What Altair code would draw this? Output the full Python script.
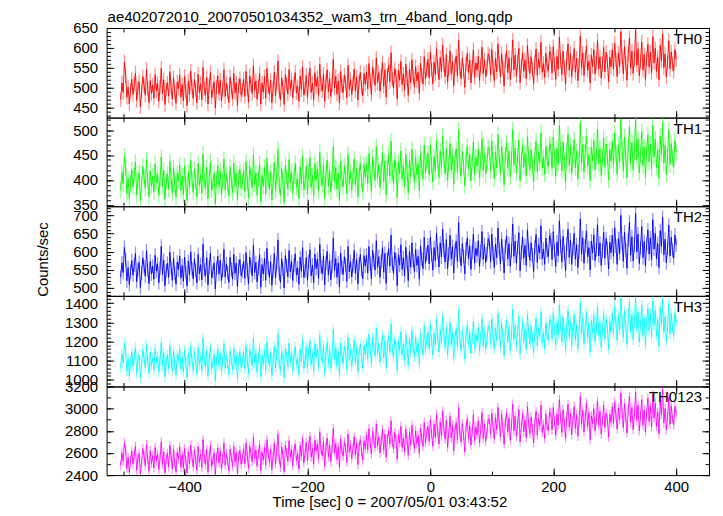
import altair as alt
import pandas as pd

title_text = "ae402072010_20070501034352_wam3_trn_4band_long.qdp"
x_title = "Time [sec] 0 = 2007/05/01 03:43:52"
y_title = "Counts/sec"
t_start = -504
t_step = 2

th0 = [
    470, 512, 488, 565, 530, 476, 502, 459, 494, 521, 483, 509, 537, 468, 499, 515, 452, 490, 528, 505,
    481, 546, 497, 463, 518, 486, 507, 474, 533, 492, 511, 466, 501, 549, 485, 520, 458, 496, 512, 479,
    540, 503, 471, 525, 489, 461, 514, 498, 532, 476,
    508, 467, 529, 491, 455, 517, 483, 542, 500, 473, 521, 495, 462, 534, 488, 510, 470, 551, 497, 482,
    526, 459, 504, 538, 476, 493, 515, 449, 502, 530, 485, 519, 468, 496, 545, 478, 511, 490, 463, 527,
    499, 472, 536, 487, 513, 456, 505, 523, 481, 494,
    522, 478, 541, 499, 465, 530, 508, 486, 555, 493, 517, 471, 502, 536, 459, 512, 489, 528, 474, 548,
    505, 483, 519, 462, 497, 539, 480, 514, 567, 491, 470, 525, 501, 458, 533, 509, 484, 546, 496, 520,
    475, 511, 538, 487, 503, 466, 529, 495, 552, 482,
    497, 531, 476, 520, 549, 488, 512, 470, 538, 503, 526, 481, 559, 507, 492, 534, 466, 515, 545, 490,
    523, 478, 508, 571, 499, 529, 484, 517, 462, 541, 505, 488, 532, 512, 475, 556, 496, 521, 483, 510,
    547, 493, 527, 469, 515, 539, 501, 480, 536, 509,
    540, 497, 561, 518, 483, 552, 529, 506, 575, 512, 538, 491, 527, 563, 503, 545, 476, 532, 557, 515,
    588, 521, 499, 548, 530, 472, 543, 519, 566, 508, 535, 494, 559, 524, 481, 547, 513, 570, 528, 502,
    553, 517, 539, 486, 562, 531, 509, 578, 522, 545,
    571, 525, 589, 546, 510, 564, 533, 598, 552, 520, 576, 541, 607, 557, 528, 583, 514, 549, 592, 536,
    566, 505, 558, 580, 531, 619, 547, 522, 575, 543, 501, 560, 586, 538, 569, 512, 553, 595, 526, 562,
    544, 579, 518, 556, 602, 535, 570, 527, 549, 585,
    579, 532, 596, 551, 518, 573, 540, 610, 562, 527, 585, 548, 504, 567, 593, 538, 575, 521, 557, 620,
    545, 582, 529, 564, 599, 513, 554, 588, 541, 570, 523, 606, 559, 536, 578, 547, 511, 565, 597, 531,
    572, 550, 614, 539, 561, 526, 586, 555, 543, 591,
    584, 537, 603, 558, 521, 579, 546, 627, 568, 533, 592, 551, 509, 575, 610, 544, 585, 528, 563, 598,
    539, 574, 517, 556, 630, 549, 587, 531, 570, 605, 543, 566, 512, 582, 553, 596, 535, 561, 618, 547,
    578, 524, 559, 601, 540, 589, 565, 515, 577, 552,
    595, 546, 612, 570, 528, 587, 553, 641, 578, 535, 603, 561, 519, 584, 625, 549, 592, 536, 571, 646,
    557, 598, 530, 566, 615, 544, 583, 521, 574, 609, 552, 589, 538, 628, 562, 599, 541, 576, 520, 606,
    568, 634, 550, 585, 527, 563, 618, 547, 590, 559,
    542, 596, 571,
]
th1 = [
    380, 415, 392, 448, 425, 372, 403, 364, 395, 420, 386, 409, 436, 370, 399, 414, 358, 391, 427, 405,
    383, 441, 397, 366, 418, 388, 407, 376, 432, 394, 411, 369, 401, 446, 387, 419, 361, 396, 412, 381,
    437, 403, 373, 424, 390, 365, 413, 398, 430, 378,
    408, 370, 428, 392, 359, 416, 385, 439, 400, 375, 421, 396, 366, 433, 389, 410, 373, 452, 397, 384,
    425, 362, 404, 436, 379, 394, 414, 352, 402, 429, 387, 418, 371, 397, 442, 380, 411, 391, 367, 426,
    399, 374, 434, 389, 413, 360, 405, 422, 383, 395,
    419, 377, 437, 397, 364, 427, 405, 384, 450, 391, 414, 369, 400, 432, 356, 409, 387, 425, 372, 444,
    402, 381, 416, 360, 395, 435, 378, 411, 461, 389, 368, 422, 398, 355, 430, 406, 382, 441, 394, 417,
    373, 408, 433, 385, 401, 363, 426, 393, 447, 380,
    394, 427, 372, 416, 444, 385, 409, 367, 433, 400, 422, 378, 455, 404, 389, 430, 363, 412, 440, 387,
    419, 375, 405, 466, 396, 425, 381, 414, 359, 437, 402, 386, 428, 409, 372, 451, 393, 417, 380, 407,
    442, 390, 423, 366, 411, 434, 398, 377, 431, 406,
    432, 392, 453, 411, 377, 445, 421, 399, 467, 405, 430, 384, 420, 455, 396, 438, 370, 425, 449, 408,
    478, 414, 392, 441, 423, 365, 436, 412, 458, 401, 428, 387, 451, 417, 374, 440, 406, 462, 421, 395,
    446, 410, 432, 379, 454, 424, 402, 470, 415, 437,
    453, 410, 470, 430, 396, 447, 417, 479, 436, 405, 458, 425, 488, 440, 412, 464, 399, 433, 473, 420,
    449, 391, 441, 462, 415, 500, 431, 407, 457, 427, 388, 443, 468, 422, 451, 398, 437, 476, 411, 445,
    428, 461, 403, 439, 483, 419, 452, 412, 433, 466,
    462, 417, 478, 435, 403, 456, 424, 491, 446, 412, 467, 432, 390, 451, 475, 423, 458, 406, 441, 501,
    429, 464, 414, 448, 480, 398, 438, 470, 426, 453, 408, 487, 443, 421, 460, 431, 396, 449, 478, 416,
    455, 434, 495, 424, 445, 411, 468, 439, 427, 473,
    468, 423, 486, 443, 407, 463, 431, 510, 452, 418, 475, 437, 395, 459, 492, 429, 469, 413, 448, 481,
    424, 458, 402, 441, 515, 434, 471, 416, 455, 488, 428, 450, 398, 466, 438, 479, 420, 446, 502, 432,
    462, 409, 444, 484, 425, 472, 449, 400, 461, 437,
    477, 430, 494, 453, 412, 470, 437, 522, 461, 419, 486, 445, 404, 467, 507, 433, 475, 420, 455, 525,
    441, 481, 414, 450, 497, 428, 466, 405, 458, 491, 436, 472, 422, 510, 446, 482, 425, 460, 403, 488,
    452, 515, 434, 469, 411, 447, 500, 431, 473, 443,
    426, 479, 455,
]
th2 = [
    530, 569, 542, 612, 577, 519, 556, 509, 545, 575, 535, 563, 595, 517, 551, 570, 501, 541, 583, 558,
    532, 602, 549, 512, 573, 538, 560, 524, 590, 546, 566, 514, 553, 615, 537, 576, 506, 547, 568, 529,
    598, 556, 521, 581, 540, 510, 571, 550, 588, 527,
    561, 518, 585, 543, 505, 574, 536, 599, 552, 525, 580, 548, 514, 592, 539, 564, 522, 620, 549, 533,
    583, 508, 557, 596, 528, 545, 569, 497, 554, 587, 538, 576, 520, 548, 606, 530, 566, 542, 515, 584,
    551, 524, 593, 540, 568, 503, 559, 578, 534, 547,
    574, 526, 597, 550, 511, 585, 559, 533, 617, 542, 570, 516, 553, 591, 502, 564, 538, 581, 521, 609,
    556, 529, 572, 507, 547, 595, 527, 567, 632, 540, 515, 580, 552, 500, 589, 561, 531, 603, 545, 573,
    520, 563, 594, 535, 555, 510, 584, 546, 611, 529,
    546, 584, 521, 572, 605, 533, 563, 514, 593, 553, 579, 526, 620, 558, 539, 588, 508, 568, 601, 536,
    575, 522, 559, 637, 547, 581, 529, 569, 503, 596, 556, 537, 586, 564, 518, 614, 544, 573, 530, 561,
    603, 540, 578, 511, 566, 592, 550, 525, 589, 560,
    590, 541, 614, 567, 525, 604, 576, 549, 630, 556, 586, 529, 572, 611, 543, 595, 512, 580, 608, 560,
    645, 566, 540, 598, 578, 506, 591, 563, 619, 551, 583, 533, 612, 571, 520, 600, 557, 624, 575, 545,
    606, 562, 587, 524, 615, 579, 553, 639, 568, 594,
    618, 566, 640, 590, 549, 611, 575, 651, 597, 558, 624, 585, 662, 604, 571, 633, 553, 593, 645, 580,
    614, 541, 604, 629, 573, 680, 590, 561, 622, 587, 539, 608, 637, 581, 616, 551, 598, 648, 568, 609,
    589, 630, 559, 601, 655, 578, 619, 570, 594, 635,
    627, 572, 648, 595, 556, 621, 583, 665, 609, 566, 634, 593, 541, 614, 643, 579, 622, 560, 601, 676,
    587, 629, 568, 611, 652, 547, 598, 641, 582, 617, 562, 660, 604, 576, 624, 591, 545, 612, 647, 570,
    619, 596, 671, 580, 607, 565, 637, 601, 586, 644,
    633, 578, 655, 603, 559, 627, 589, 685, 614, 571, 642, 598, 547, 621, 662, 584, 632, 565, 608, 650,
    579, 619, 556, 600, 690, 592, 638, 568, 616, 657, 586, 611, 549, 629, 596, 646, 575, 605, 674, 588,
    624, 562, 602, 653, 582, 636, 609, 552, 626, 597,
    645, 587, 666, 615, 565, 636, 595, 700, 624, 573, 654, 605, 554, 632, 681, 590, 641, 574, 617, 705,
    599, 648, 567, 611, 669, 583, 628, 560, 620, 660, 593, 638, 578, 688, 607, 650, 580, 622, 556, 658,
    614, 694, 591, 634, 569, 609, 673, 588, 640, 603,
    582, 646, 618,
]
th3 = [
    1065, 1135, 1088, 1190, 1150, 1045, 1108, 1020, 1092, 1142, 1070, 1118, 1170, 1035, 1101, 1130, 1010, 1080, 1158, 1112,
    1062, 1182, 1097, 1030, 1145, 1075, 1115, 1050, 1165, 1090, 1125, 1040, 1104, 1195, 1072, 1140, 1015, 1094, 1128, 1058,
    1176, 1107, 1044, 1152, 1081, 1025, 1133, 1100, 1162, 1055,
    1118, 1040, 1155, 1085, 1012, 1138, 1068, 1175, 1103, 1048, 1147, 1092, 1030, 1168, 1078, 1122, 1046, 1215, 1098, 1066,
    1152, 1022, 1110, 1172, 1056, 1088, 1132, 995, 1106, 1160, 1076, 1140, 1042, 1097, 1188, 1060, 1127, 1083, 1028, 1150,
    1101, 1050, 1165, 1079, 1125, 1006, 1112, 1146, 1064, 1093,
    1146, 1058, 1178, 1102, 1030, 1160, 1118, 1072, 1220, 1088, 1137, 1040, 1112, 1170, 1015, 1128, 1080, 1155, 1050, 1200,
    1114, 1068, 1142, 1022, 1096, 1175, 1063, 1132, 1240, 1086, 1045, 1150, 1108, 1010, 1164, 1122, 1070, 1190, 1092, 1140,
    1048, 1125, 1172, 1077, 1110, 1028, 1158, 1095, 1210, 1060,
    1104, 1170, 1058, 1150, 1205, 1080, 1136, 1042, 1188, 1120, 1162, 1066, 1232, 1128, 1090, 1178, 1035, 1142, 1198, 1082,
    1156, 1060, 1130, 1262, 1108, 1166, 1072, 1146, 1025, 1192, 1124, 1086, 1174, 1138, 1052, 1220, 1100, 1160, 1068, 1132,
    1208, 1094, 1168, 1040, 1144, 1186, 1115, 1062, 1180, 1130,
    1195, 1110, 1238, 1158, 1085, 1222, 1170, 1125, 1270, 1138, 1190, 1092, 1165, 1232, 1114, 1205, 1064, 1180, 1228, 1148,
    1292, 1160, 1115, 1212, 1175, 1050, 1200, 1152, 1250, 1130, 1186, 1098, 1236, 1162, 1075, 1215, 1140, 1258, 1168, 1118,
    1220, 1145, 1192, 1082, 1240, 1178, 1132, 1280, 1155, 1208,
    1250, 1160, 1290, 1205, 1130, 1242, 1180, 1315, 1215, 1145, 1262, 1192, 1335, 1228, 1168, 1276, 1132, 1208, 1300, 1185,
    1245, 1112, 1222, 1268, 1176, 1362, 1204, 1152, 1258, 1196, 1108, 1235, 1285, 1182, 1248, 1138, 1212, 1305, 1164, 1238,
    1200, 1272, 1150, 1225, 1320, 1178, 1255, 1162, 1206, 1280,
    1278, 1185, 1318, 1228, 1160, 1270, 1205, 1345, 1248, 1168, 1292, 1222, 1125, 1258, 1310, 1196, 1275, 1150, 1235, 1368,
    1212, 1284, 1174, 1252, 1330, 1135, 1226, 1305, 1200, 1264, 1158, 1340, 1242, 1188, 1280, 1218, 1140, 1255, 1322, 1178,
    1268, 1230, 1355, 1192, 1246, 1162, 1298, 1234, 1206, 1312,
    1312, 1215, 1350, 1260, 1180, 1302, 1234, 1390, 1278, 1198, 1325, 1250, 1155, 1290, 1362, 1225, 1306, 1175, 1268, 1340,
    1208, 1286, 1162, 1254, 1402, 1240, 1320, 1188, 1274, 1352, 1220, 1296, 1145, 1310, 1245, 1336, 1200, 1262, 1380, 1230,
    1300, 1170, 1258, 1345, 1212, 1318, 1270, 1160, 1305, 1248,
    1345, 1240, 1382, 1295, 1205, 1335, 1262, 1425, 1310, 1220, 1360, 1280, 1185, 1322, 1405, 1250, 1340, 1210, 1300, 1430,
    1268, 1352, 1198, 1288, 1390, 1232, 1320, 1180, 1305, 1372, 1258, 1345, 1225, 1412, 1285, 1362, 1230, 1310, 1175, 1378,
    1295, 1420, 1248, 1330, 1202, 1282, 1398, 1240, 1348, 1270,
    1232, 1350, 1302,
]
th0123 = [
    2490, 2600, 2525, 2690, 2625, 2460, 2560, 2425, 2535, 2615, 2500, 2580, 2660, 2445, 2550, 2595, 2410, 2515, 2640, 2570,
    2485, 2675, 2540, 2435, 2620, 2505, 2575, 2465, 2650, 2530, 2590, 2450, 2555, 2700, 2495, 2610, 2420, 2538, 2598, 2475,
    2668, 2562, 2455, 2632, 2510, 2430, 2605, 2545, 2655, 2470,
    2585, 2465, 2640, 2530, 2420, 2610, 2500, 2670, 2560, 2475, 2625, 2540, 2445, 2655, 2515, 2590, 2470, 2720, 2550, 2495,
    2630, 2430, 2570, 2665, 2480, 2535, 2600, 2405, 2565, 2645, 2510, 2615, 2455, 2548, 2690, 2490, 2595, 2525, 2440, 2635,
    2558, 2478, 2660, 2520, 2605, 2415, 2575, 2625, 2498, 2545,
    2640, 2505, 2690, 2575, 2460, 2660, 2595, 2520, 2740, 2550, 2625, 2480, 2588, 2675, 2440, 2610, 2535, 2650, 2490, 2720,
    2598, 2515, 2635, 2450, 2565, 2685, 2500, 2620, 2770, 2545, 2470, 2655, 2580, 2430, 2670, 2605, 2525, 2710, 2560, 2630,
    2485, 2612, 2680, 2530, 2592, 2455, 2665, 2570, 2730, 2510,
    2595, 2695, 2530, 2665, 2750, 2560, 2640, 2500, 2715, 2620, 2680, 2545, 2790, 2630, 2575, 2705, 2480, 2650, 2735, 2565,
    2670, 2520, 2635, 2820, 2600, 2685, 2540, 2655, 2470, 2725, 2625, 2570, 2700, 2645, 2515, 2770, 2605, 2675, 2550, 2638,
    2745, 2585, 2690, 2495, 2660, 2720, 2612, 2535, 2710, 2635,
    2760, 2630, 2820, 2695, 2590, 2795, 2715, 2645, 2860, 2665, 2745, 2600, 2705, 2810, 2625, 2770, 2560, 2730, 2800, 2680,
    2890, 2700, 2635, 2785, 2725, 2545, 2765, 2690, 2840, 2650, 2735, 2610, 2815, 2710, 2580, 2790, 2670, 2850, 2720, 2640,
    2800, 2685, 2755, 2595, 2825, 2730, 2660, 2875, 2695, 2780,
    2840, 2705, 2900, 2770, 2660, 2860, 2740, 2950, 2790, 2680, 2880, 2755, 2980, 2815, 2725, 2895, 2650, 2780, 2930, 2735,
    2850, 2620, 2805, 2875, 2720, 3010, 2775, 2700, 2865, 2760, 2610, 2830, 2910, 2730, 2845, 2670, 2790, 2945, 2710, 2835,
    2765, 2890, 2690, 2810, 2965, 2730, 2860, 2705, 2780, 2905,
    2905, 2770, 2960, 2835, 2725, 2920, 2810, 3010, 2870, 2745, 2945, 2825, 2680, 2880, 2965, 2790, 2915, 2715, 2850, 3040,
    2800, 2930, 2750, 2865, 2990, 2700, 2830, 2955, 2790, 2895, 2735, 3020, 2860, 2775, 2925, 2820, 2690, 2875, 2975, 2760,
    2910, 2845, 3030, 2785, 2855, 2730, 2950, 2840, 2805, 2970,
    2960, 2810, 3010, 2885, 2760, 2950, 2850, 3080, 2910, 2785, 2990, 2870, 2730, 2930, 3040, 2835, 2955, 2765, 2900, 3020,
    2820, 2945, 2750, 2880, 3110, 2860, 2985, 2790, 2920, 3050, 2840, 2965, 2720, 2935, 2865, 3000, 2800, 2895, 3070, 2850,
    2975, 2770, 2890, 3030, 2830, 2960, 2905, 2745, 2950, 2875,
    3015, 2865, 3060, 2940, 2815, 3005, 2900, 3140, 2965, 2830, 3045, 2920, 2780, 2985, 3110, 2875, 3010, 2810, 2950, 3150,
    2895, 3030, 2800, 2935, 3080, 2850, 2990, 2790, 2960, 3095, 2885, 3020, 2835, 3125, 2915, 3050, 2840, 2970, 2775, 3070,
    2945, 3170, 2870, 3000, 2810, 2925, 3100, 2860, 3025, 2910,
    2855, 3020, 2955,
]

series = [th0, th1, th2, th3, th0123]
labels = ["TH0", "TH1", "TH2", "TH3", "TH0123"]
colors = ["#ff0000", "#00ff00", "#0000ff", "#00ffff", "#ff00ff"]
errors = [18, 16, 19, 27, 42]
y_domains = [[425, 650], [347, 525], [478, 725], [965, 1438], [2400, 3200]]
y_major = [
    [450, 500, 550, 600, 650],
    [350, 400, 450, 500],
    [500, 550, 600, 650, 700],
    [1000, 1100, 1200, 1300, 1400],
    [2400, 2600, 2800, 3000, 3200],
]
y_minor = [
    list(range(430, 651, 10)),
    list(range(350, 521, 10)),
    list(range(480, 721, 10)),
    list(range(980, 1421, 20)),
    list(range(2400, 3201, 100)),
]
x_domain = [-527, 453.5]
x_major = [-400, -200, 0, 200, 400]
x_minor = [-500, -400, -300, -200, -100, 0, 100, 200, 300, 400]

FONT = "Liberation Sans"
FS = 15
W = 605
heights = [90, 89, 90, 91, 89]
MAJ = 7
MIN = 4


def tick_axis(orient, offset, values, size):
    return alt.Axis(orient=orient, offset=offset, values=values, tickSize=size,
                    labels=False, domain=False, grid=False, title=None,
                    ticks=True, tickColor="black", tickWidth=1)


def panel(i):
    vals = series[i]
    h = heights[i]
    err = errors[i]
    df = pd.DataFrame({
        "t": [t_start + t_step * k for k in range(len(vals))],
        "v": vals,
        "lo": [v - err for v in vals],
        "hi": [v + err for v in vals],
    })
    xs = alt.Scale(domain=x_domain, nice=False, zero=False)
    ys = alt.Scale(domain=y_domains[i], nice=False, zero=False)
    base = alt.Chart(df)
    last = i == len(series) - 1

    if last:
        x_lab = alt.Axis(values=x_major, ticks=False, tickSize=0, domain=False, grid=False,
                         labelPadding=4, labelFlush=False, labelOverlap=False, format="d",
                         labelFontSize=FS, title=x_title, titleFontSize=FS,
                         titleFontWeight="normal", titleX=284, titleY=32,
                         titleAlign="center", titleBaseline="alphabetic")
    else:
        x_lab = None

    y_kw = dict(values=y_major[i], ticks=False, tickSize=0, domain=False, grid=False, format="d",
                labelPadding=9, labelFlush=False, labelOverlap=False, labelFontSize=FS)
    if i == 2:
        y_lab = alt.Axis(title=y_title, titleFontSize=FS, titleFontWeight="normal",
                         titleX=-64, titleY=53, titleAngle=270, titleAlign="center",
                         titleBaseline="middle", **y_kw)
    else:
        y_lab = alt.Axis(title=None, **y_kw)

    l_err = base.mark_rule(color=colors[i], opacity=0.45, strokeWidth=1.2, clip=True).encode(
        x=alt.X("t:Q", scale=xs, axis=x_lab),
        y=alt.Y("lo:Q", scale=ys, axis=y_lab),
        y2="hi:Q",
    )
    l_line = base.mark_line(color=colors[i], strokeWidth=0.9, clip=True).encode(
        x=alt.X("t:Q", scale=xs, axis=tick_axis("top", -h, x_major, MAJ)),
        y=alt.Y("v:Q", scale=ys, axis=tick_axis("right", -W, y_major[i], MAJ)),
    )
    l_a = base.mark_point(opacity=0, size=1).encode(
        x=alt.X("t:Q", scale=xs, axis=tick_axis("top", -h, x_minor, MIN)),
        y=alt.Y("v:Q", scale=ys, axis=tick_axis("right", -W, y_minor[i], MIN)),
    )
    l_b = base.mark_point(opacity=0, size=1).encode(
        x=alt.X("t:Q", scale=xs, axis=tick_axis("bottom", -h, x_major, MAJ)),
        y=alt.Y("v:Q", scale=ys, axis=tick_axis("left", -W, y_major[i], MAJ)),
    )
    l_c = base.mark_point(opacity=0, size=1).encode(
        x=alt.X("t:Q", scale=xs, axis=tick_axis("bottom", -h, x_minor, MIN)),
        y=alt.Y("v:Q", scale=ys, axis=tick_axis("left", -W, y_minor[i], MIN)),
    )
    l_txt = alt.Chart(pd.DataFrame({"label": [labels[i]]})).mark_text(
        align="right", baseline="alphabetic", font=FONT, fontSize=FS, color="black"
    ).encode(x=alt.value(598), y=alt.value(16), text="label:N")

    ch = alt.layer(l_err, l_line, l_a, l_b, l_c, l_txt).resolve_axis(
        x="independent", y="independent"
    ).properties(width=W, height=h)
    if i == 0:
        ch = ch.properties(title=alt.TitleParams(
            text=title_text, anchor="start", frame="group", fontSize=FS, font=FONT,
            fontWeight="normal", color="black", baseline="alphabetic", offset=-16, dx=1))
    return ch


chart = alt.vconcat(*[panel(i) for i in range(len(series))], spacing=0, bounds="flush").properties(
    padding={"left": 27, "top": 0, "right": 5, "bottom": 5}
).configure_view(stroke="black", strokeWidth=1).configure_axis(
    labelFont=FONT, titleFont=FONT, labelColor="black", titleColor="black"
)

chart.save("out.html", embed_options={"renderer": "svg", "actions": False})
